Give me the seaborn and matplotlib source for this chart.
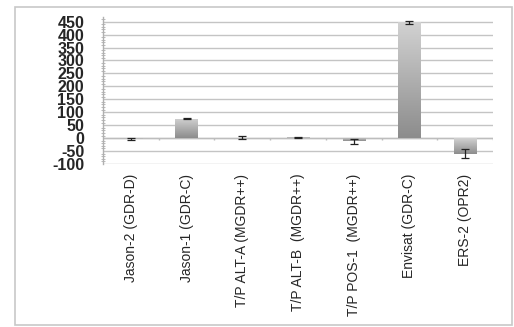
"""Bar chart of mean values with error bars per altimetry mission (recreated)."""

import matplotlib.pyplot as plt
import numpy as np
import pandas as pd
import seaborn as sns
from matplotlib.colors import LinearSegmentedColormap
from matplotlib.patches import Rectangle
from matplotlib.ticker import MultipleLocator

missions = [
    "Jason-2 (GDR-D)",
    "Jason-1 (GDR-C)",
    "T/P ALT-A (MGDR++)",
    "T/P ALT-B  (MGDR++)",
    "T/P POS-1  (MGDR++)",
    "Envisat (GDR-C)",
    "ERS-2 (OPR2)",
]
values = [-3, 75, 2, 3, -12, 448, -60]
errors = [3, 3, 7, 2, 10, 6, 18]

df = pd.DataFrame({"Mission": missions, "Value": values, "Error": errors})

sns.set_style("white")
plt.rcParams["font.family"] = ["Liberation Sans", "DejaVu Sans"]
plt.rcParams["axes.unicode_minus"] = False

fig = plt.figure(figsize=(5.14, 3.27), dpi=100)
ax = fig.add_axes([103 / 514, 1 - 164 / 327, 390 / 514, 147 / 327])

sns.barplot(data=df, x="Mission", y="Value", color="#aaaaaa", width=0.4,
            errorbar=None, ax=ax, zorder=3)

# vertical gray gradient inside each bar: darker at the bottom, lighter on top
bar_cmap = LinearSegmentedColormap.from_list("bar", ["#8c8c8c", "#d2d2d2"])
grad = np.linspace(0, 1, 256).reshape(-1, 1)
for bar in ax.patches:
    x0, y0 = bar.get_x(), bar.get_y()
    w, h = bar.get_width(), bar.get_height()
    lo, hi = min(y0, y0 + h), max(y0, y0 + h)
    bar.set_facecolor("none")
    bar.set_edgecolor("none")
    img = ax.imshow(grad, extent=[x0, x0 + w, lo, hi], origin="lower",
                    cmap=bar_cmap, aspect="auto", zorder=3)
    img.set_clip_path(bar)

ax.errorbar(np.arange(len(missions)), df["Value"], yerr=df["Error"], fmt="none",
            ecolor="#222222", elinewidth=0.9, capsize=3, capthick=0.9, zorder=4)

ax.set_xlim(-0.5, len(missions) - 0.5)
ax.set_ylim(-100, 468)
ax.yaxis.set_major_locator(MultipleLocator(50))
ax.yaxis.set_minor_locator(MultipleLocator(10))
ax.grid(axis="y", which="major", color="#c4c4c4", linewidth=1.0, zorder=0)
ax.set_axisbelow(True)

for side in ["top", "right", "bottom"]:
    ax.spines[side].set_visible(False)
ax.spines["left"].set_color("#b0b0b0")
ax.spines["left"].set_linewidth(1.0)

ax.axhline(0, color="#bdbdbd", linewidth=1.0, zorder=2)
ax.vlines(np.arange(len(missions)) + 0.5, -9, 0, color="#bdbdbd", linewidth=1.0, zorder=2)

ax.tick_params(axis="y", which="major", direction="inout", length=5, color="#b0b0b0",
               labelsize=11.5, pad=11)
ax.tick_params(axis="y", which="minor", direction="inout", length=3, color="#b0b0b0",
               left=True)
for lbl in ax.get_yticklabels():
    lbl.set_fontweight("bold")

ax.tick_params(axis="x", length=0, pad=7)
ax.set_xticks(range(len(missions)))
ax.set_xticklabels(missions, rotation=90, va="top", ha="center", fontsize=10)
ax.set_xlabel("")
ax.set_ylabel("")

fig.patches.append(Rectangle((15 / 514, 1 - 325 / 327), 497 / 514, 318 / 327,
                             transform=fig.transFigure, fill=False,
                             edgecolor="#c8c8c8", linewidth=1.2))

fig.savefig("out.png", dpi=100)
